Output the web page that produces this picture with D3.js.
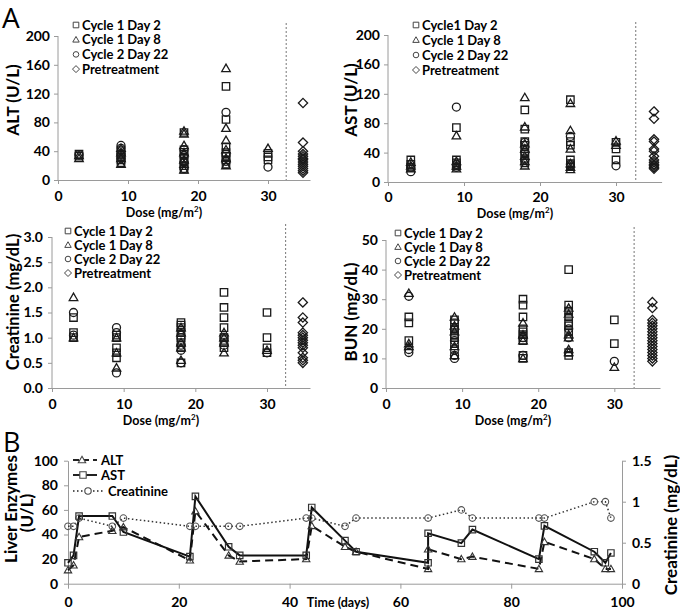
<!DOCTYPE html>
<html><head><meta charset="utf-8">
<script src="https://cdn.jsdelivr.net/npm/d3@7"></script>
<style>
body{margin:0;background:#fff;}
svg text{font-family:Lato,"Open Sans",sans-serif;}
</style>
</head><body>
<svg id="c" width="680" height="612"></svg>
<script>
// ---------- DATA ----------
const seriesNames = ["Cycle 1 Day 2","Cycle 1 Day 8","Cycle 2 Day 22","Pretreatment"];
const seriesNamesAST = ["Cycle1 Day 2","Cycle 1 Day 8","Cycle 2 Day 22","Pretreatment"];
const doseTicks = [0,10,20,30];

const altC1D2 = [[3,36],[3,33],[9,41],[9,36],[9,32],[9,28],[9,24],[18,66],[18,42],[18,36],[18,30],[18,26],[18,20],[18,15],[24,130],[24,84],[24,46],[24,38],[24,33],[24,28],[24,22],[30,37],[30,32],[30,28]];
const altC1D8 = [[3,30],[3,34],[9,44],[9,38],[9,30],[9,22],[18,68],[18,64],[18,48],[18,38],[18,28],[18,22],[18,14],[24,155],[24,72],[24,55],[24,42],[24,30],[24,20],[30,44]];
const altC2D22 = [[3,35],[9,48],[9,44],[9,36],[9,30],[18,42],[18,34],[18,24],[18,16],[24,94],[24,36],[24,26],[30,18]];
const altPre = [[35,107],[35,52],[35,40],[35,36],[35,33],[35,30],[35,28],[35,25],[35,22],[35,19],[35,16],[35,13],[35,10]];
const altTicks = [0,40,80,120,160,200];

const astC1D2 = [[3,30],[3,24],[3,20],[9,74],[9,30],[9,26],[9,22],[18,98],[18,72],[18,55],[18,50],[18,45],[18,38],[18,32],[18,26],[24,112],[24,55],[24,50],[24,30],[24,25],[24,22],[30,54],[30,45],[30,30]];
const astC1D8 = [[3,27],[3,22],[3,18],[9,63],[9,28],[9,22],[9,18],[18,115],[18,75],[18,52],[18,45],[18,35],[18,28],[18,22],[24,107],[24,70],[24,45],[24,25],[24,20],[24,17],[30,56],[30,50]];
const astC2D22 = [[3,14],[3,20],[9,102],[9,24],[9,20],[18,54],[18,40],[18,30],[24,62],[24,24],[30,22]];
const astPre = [[35,96],[35,86],[35,58],[35,55],[35,45],[35,42],[35,35],[35,30],[35,27],[35,24],[35,22],[35,20],[35,18]];
const astTicks = [0,40,80,120,160,200];

const crC1D2 = [[3,1.4],[3,1.1],[3,1.0],[9,1.05],[9,1.0],[9,0.8],[9,0.7],[9,0.6],[18,1.3],[18,1.25],[18,1.2],[18,1.1],[18,1.0],[18,0.9],[18,0.8],[18,0.5],[24,1.9],[24,1.6],[24,1.4],[24,1.2],[24,1.0],[24,0.9],[24,0.8],[30,1.5],[30,1.0],[30,0.8],[30,0.7]];
const crC1D8 = [[3,1.8],[3,1.0],[9,1.0],[9,0.7],[9,0.4],[18,1.2],[18,1.1],[18,0.9],[18,0.8],[18,0.55],[24,1.1],[24,1.0],[24,0.9],[24,0.7],[30,0.75]];
const crC2D22 = [[3,1.5],[3,1.05],[9,1.2],[9,1.1],[9,0.3],[18,1.0],[18,0.85],[18,0.75],[18,0.5],[24,1.0],[24,0.85],[30,0.7]];
const crPre = [[35,1.7],[35,1.4],[35,1.3],[35,1.1],[35,1.05],[35,1.0],[35,0.95],[35,0.9],[35,0.85],[35,0.8],[35,0.7],[35,0.6],[35,0.55],[35,0.5]];
const crTicks = [0,0.5,1.0,1.5,2.0,2.5,3.0];

const bunC1D2 = [[3,24],[3,22],[3,16],[9,23],[9,22],[9,20],[9,18],[9,17],[9,15],[9,13],[18,30],[18,28],[18,24],[18,20],[18,19],[18,18],[18,17],[18,16],[18,11],[18,10],[24,40],[24,28],[24,26],[24,24],[24,22],[24,21],[24,19],[24,12],[24,11],[30,23],[30,15]];
const bunC1D8 = [[3,32],[3,15],[3,14],[9,24],[9,21],[9,19],[9,14],[9,11],[18,22],[18,18],[18,16],[18,10],[24,27],[24,25],[24,18],[24,17],[24,13],[24,12],[30,7]];
const bunC2D22 = [[3,31],[3,13],[3,12],[9,20],[9,16],[9,11],[9,10],[18,17],[18,11],[24,20],[24,17],[30,9]];
const bunPre = [[35,29],[35,27],[35,23],[35,22],[35,21],[35,20],[35,19],[35,18],[35,17],[35,16],[35,15],[35,14],[35,13],[35,12],[35,11],[35,10],[35,9]];
const bunTicks = [0,10,20,30,40,50];

// Panel B time course
const enzDays = [0,1,2,8,10,22,23,29,31,43,44,50,52,65,65,71,73,85,86,95,97,98];
const altVals = [11,15,38,43,46,19,59,23,18,20,47,30,26,12,28,20,22,12,34,20,12,12];
const astVals = [17,23,55,55,42,22,71,30,23,23,62,35,26,17,41,33,44,20,47,26,17,25];
const crDays = [0,1,2,8,10,22,23,29,31,43,44,50,52,65,71,73,85,86,95,97,98];
const crVals = [0.7,0.7,0.8,0.7,0.8,0.7,0.7,0.7,0.7,0.8,0.8,0.7,0.8,0.8,0.9,0.8,0.8,0.8,1.0,1.0,0.8];
const timeTicks = [0,20,40,60,80,100];
const enzTicks = [0,20,40,60,80,100];
const crRightTicks = [0,0.5,1,1.5];

// ---------- DRAWING ----------
const svg = d3.select("#c");
const AXC = "#9a9a9a";
const INK = "#1a1a1a";

function shape(type, r){
  const p = d3.path();
  if(type==="square"){ p.rect(-r,-r,2*r,2*r); }
  else if(type==="triangle"){ p.moveTo(0,-r*1.15); p.lineTo(r*1.15,r*0.85); p.lineTo(-r*1.15,r*0.85); p.closePath(); }
  else if(type==="circle"){ p.moveTo(r,0); p.arc(0,0,r,0,2*Math.PI); }
  else { const d=r*1.25; p.moveTo(0,-d); p.lineTo(d,0); p.lineTo(0,d); p.lineTo(-d,0); p.closePath(); }
  return p.toString();
}
const types = ["square","triangle","circle","diamond"];

function scatterPanel(cfg){
  const g = svg.append("g");
  const x = d3.scaleLinear().domain([0,36]).range([cfg.x0,cfg.x1]);
  const y = d3.scaleLinear().domain(cfg.ydom).range([cfg.y0,cfg.y1]);
  const ya = g.append("g").attr("transform",`translate(${cfg.x0},0)`)
    .call(d3.axisLeft(y).tickValues(cfg.yticks).tickSize(4).tickPadding(cfg.ypad).tickFormat(cfg.yfmt));
  const xa = g.append("g").attr("transform",`translate(0,${cfg.y0})`)
    .call(d3.axisBottom(x).tickValues(doseTicks).tickSize(4).tickPadding(cfg.xpad).tickSizeOuter(0));
  [ya,xa].forEach(a=>{
    a.selectAll("path,line").attr("stroke",AXC);
    a.selectAll("text").attr("fill","#000").style("font-size","14px").style("font-weight","700");
  });
  ya.select("path").attr("d",`M-0,${cfg.y0}V${cfg.y1}`);
  g.append("line").attr("x1",x(32.6)).attr("x2",x(32.6)).attr("y1",cfg.y1-13).attr("y2",cfg.y0)
    .attr("stroke","#777").attr("stroke-dasharray","2,2").attr("stroke-width",1);
  cfg.series.forEach((s,i)=>{
    g.append("g").selectAll("path").data(s).join("path")
      .attr("d",shape(types[i],i===2?4:3.7))
      .attr("transform",d=>`translate(${x(d[0])},${y(d[1])})`)
      .attr("fill","none").attr("stroke",INK).attr("stroke-width",1.3);
  });
  g.append("text").attr("transform",`translate(${cfg.ylx},${cfg.yly}) rotate(-90)`)
    .attr("text-anchor","middle").style("font-size",cfg.yfs||"17px").style("font-weight","700").text(cfg.ytitle);
  const dt = g.append("text").attr("x",cfg.dtx).attr("y",cfg.dty).attr("text-anchor","middle")
    .style("font-size","12.5px").style("font-weight","700");
  dt.append("tspan").text("Dose (mg/m");
  dt.append("tspan").attr("dy",-5).style("font-size","8px").text("2");
  dt.append("tspan").attr("dy",5).text(")");
  cfg.names.forEach((n,i)=>{
    const yy = cfg.ly + i*cfg.lstep;
    g.append("path").attr("d",shape(types[i],2.8)).attr("transform",`translate(${cfg.lx},${yy})`)
      .attr("fill","none").attr("stroke","#444").attr("stroke-width",1);
    g.append("text").attr("x",cfg.lx+6).attr("y",yy+4.5).style("font-size","13px").style("font-weight","700").text(n);
  });
}

scatterPanel({x0:58,x1:310,y0:180,y1:36,ydom:[0,200],yticks:altTicks,yfmt:d3.format("d"),ypad:4,xpad:7,
  series:[altC1D2,altC1D8,altC2D22,altPre],ytitle:"ALT (U/L)",ylx:19,yly:100,dtx:164,dty:217,
  names:seriesNames,lx:76,ly:25,lstep:14.7});
scatterPanel({x0:388,x1:661.6,y0:182,y1:35,ydom:[0,200],yticks:astTicks,yfmt:d3.format("d"),ypad:4,xpad:6,
  series:[astC1D2,astC1D8,astC2D22,astPre],ytitle:"AST (U/L)",ylx:357,yly:100,dtx:515,dty:218,
  names:seriesNamesAST,lx:416,ly:25,lstep:15});
scatterPanel({x0:52,x1:310,y0:388,y1:237,ydom:[0,3],yticks:crTicks,yfmt:d3.format(".1f"),ypad:5,xpad:7,
  series:[crC1D2,crC1D8,crC2D22,crPre],ytitle:"Creatinine (mg/dL)",yfs:"16.5px",ylx:19,yly:302,dtx:161,dty:425,
  names:seriesNames,lx:68,ly:231,lstep:14});
scatterPanel({x0:386,x1:660,y0:388,y1:240,ydom:[0,50],yticks:bunTicks,yfmt:d3.format("d"),ypad:4,xpad:7,
  series:[bunC1D2,bunC1D8,bunC2D22,bunPre],ytitle:"BUN (mg/dL)",ylx:357,yly:312,dtx:513,dty:425,
  names:seriesNames,lx:398,ly:233,lstep:14});

svg.append("text").attr("x",2).attr("y",28).style("font-size","28px").style("font-family","'Open Sans',sans-serif").text("A");
svg.append("text").attr("x",3).attr("y",452).style("font-size","27px").style("font-family","'Open Sans',sans-serif").text("B");

// ---------- Panel B ----------
(function(){
  const g = svg.append("g");
  const x = d3.scaleLinear().domain([0,100]).range([68,622]);
  const yL = d3.scaleLinear().domain([0,100]).range([583.7,460.7]);
  const yR = d3.scaleLinear().domain([0,1.5]).range([583.7,460.7]);
  const ax1 = g.append("g").attr("transform","translate(68,0)").call(d3.axisLeft(yL).tickValues(enzTicks).tickSize(4).tickPadding(6).tickSizeOuter(0));
  const ax2 = g.append("g").attr("transform","translate(622,0)").call(d3.axisRight(yR).tickValues(crRightTicks).tickSize(4).tickPadding(6).tickSizeOuter(0).tickFormat(d3.format("")));
  const ax3 = g.append("g").attr("transform","translate(0,583.7)").call(d3.axisBottom(x).tickValues(timeTicks).tickSize(5).tickPadding(8).tickSizeOuter(0));
  [ax1,ax2,ax3].forEach(a=>{
    a.selectAll("path,line").attr("stroke",AXC);
    a.selectAll("text").attr("fill","#000").style("font-size","14px").style("font-weight","700");
  });
  const alt = enzDays.map((d,i)=>[d,altVals[i]]);
  const ast = enzDays.map((d,i)=>[d,astVals[i]]);
  const cr = crDays.map((d,i)=>[d,crVals[i]]);
  const lineL = d3.line().x(d=>x(d[0])).y(d=>yL(d[1]));
  const lineR = d3.line().x(d=>x(d[0])).y(d=>yR(d[1]));
  g.append("path").attr("d",lineR(cr)).attr("fill","none").attr("stroke","#333").attr("stroke-width",1.5).attr("stroke-dasharray","1.5,2.5");
  g.append("path").attr("d",lineL(alt)).attr("fill","none").attr("stroke","#111").attr("stroke-width",2).attr("stroke-dasharray","8,5");
  g.append("path").attr("d",lineL(ast)).attr("fill","none").attr("stroke","#111").attr("stroke-width",2);
  g.append("g").selectAll("path").data(cr).join("path").attr("d",shape("circle",3.3))
    .attr("transform",d=>`translate(${x(d[0])},${yR(d[1])})`).attr("fill","none").attr("stroke","#555").attr("stroke-width",1.1);
  g.append("g").selectAll("path").data(alt).join("path").attr("d",shape("triangle",3.2))
    .attr("transform",d=>`translate(${x(d[0])},${yL(d[1])})`).attr("fill","none").attr("stroke","#333").attr("stroke-width",1.1);
  g.append("g").selectAll("path").data(ast).join("path").attr("d",shape("square",3.2))
    .attr("transform",d=>`translate(${x(d[0])},${yL(d[1])})`).attr("fill","none").attr("stroke","#333").attr("stroke-width",1.2);
  const leg = [
    {n:"ALT",t:"triangle",dash:"6,4",w:2,x1:73,x2:97,mx:82,y:460,tx:101},
    {n:"AST",t:"square",dash:null,w:2,x1:73,x2:97,mx:83,y:475,tx:101},
    {n:"Creatinine",t:"circle",dash:"1.5,2.5",w:1.5,x1:73,x2:104,mx:88,y:491,tx:108}
  ];
  leg.forEach(l=>{
    g.append("line").attr("x1",l.x1).attr("x2",l.x2).attr("y1",l.y).attr("y2",l.y).attr("stroke","#222").attr("stroke-width",l.w).attr("stroke-dasharray",l.dash);
    g.append("path").attr("d",shape(l.t,3.2)).attr("transform",`translate(${l.mx},${l.y})`).attr("fill","#fff").attr("stroke","#444").attr("stroke-width",1.1);
    g.append("text").attr("x",l.tx).attr("y",l.y+4.5).style("font-size","13px").style("font-weight","700").text(l.n);
  });
  g.append("text").attr("transform","translate(17,509) rotate(-90)").attr("text-anchor","middle").style("font-size","17px").style("font-weight","700").text("Liver Enzymes");
  g.append("text").attr("transform","translate(33,513) rotate(-90)").attr("text-anchor","middle").style("font-size","17px").style("font-weight","700").text("(U/L)");
  g.append("text").attr("transform","translate(677,525) rotate(-90)").attr("text-anchor","middle").style("font-size","17px").style("font-weight","700").text("Creatinine (mg/dL)");
  g.append("text").attr("x",338).attr("y",607).attr("text-anchor","middle").style("font-size","12.5px").style("font-weight","700").text("Time (days)");
})();
</script>
</body></html>
